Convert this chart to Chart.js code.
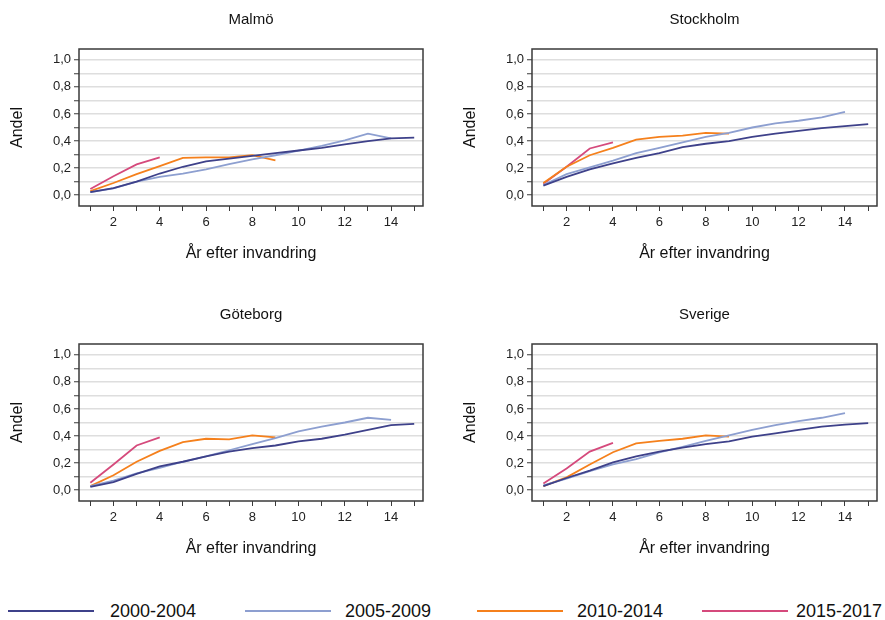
<!DOCTYPE html>
<html>
<head>
<meta charset="utf-8">
<script src="https://cdn.jsdelivr.net/npm/chart.js@4.4.0/dist/chart.umd.min.js"></script>
<style>
body { margin: 0; background: #fff; width: 885px; height: 620px; position: relative; overflow: hidden; font-family: Arial, "Liberation Sans", sans-serif; }
canvas { position: absolute; }
.linje { position: absolute; height: 2px; top: 610px; }
.text { position: absolute; top: 599px; font-size: 18px; line-height: 24px; color: #111; white-space: nowrap; }
</style>
</head>
<body>
<canvas id="malmo" width="442" height="275" style="left:0;top:0"></canvas>
<canvas id="stockholm" width="432" height="275" style="left:453px;top:0"></canvas>
<canvas id="goteborg" width="442" height="275" style="left:0;top:295px"></canvas>
<canvas id="sverige" width="432" height="275" style="left:453px;top:295px"></canvas>
<div id="legend"></div>
<script>
// Data
var ar = [1, 2, 3, 4, 5, 6, 7, 8, 9, 10, 11, 12, 13, 14, 15];
var perioder = ['2000-2004', '2005-2009', '2010-2014', '2015-2017'];
var farger = ['#3e418a', '#8d9fd0', '#f5801c', '#d54a7c'];

var malmo0 = [0.022, 0.052, 0.10, 0.16, 0.21, 0.25, 0.27, 0.29, 0.31, 0.33, 0.35, 0.375, 0.40, 0.42, 0.425];
var malmo1 = [0.022, 0.05, 0.10, 0.135, 0.16, 0.19, 0.23, 0.265, 0.295, 0.33, 0.365, 0.405, 0.455, 0.42];
var malmo2 = [0.03, 0.09, 0.155, 0.215, 0.275, 0.28, 0.28, 0.295, 0.257];
var malmo3 = [0.045, 0.14, 0.227, 0.28];

var sthlm0 = [0.07, 0.135, 0.19, 0.235, 0.275, 0.31, 0.355, 0.38, 0.40, 0.43, 0.455, 0.475, 0.495, 0.51, 0.525];
var sthlm1 = [0.075, 0.155, 0.205, 0.255, 0.31, 0.35, 0.39, 0.43, 0.46, 0.50, 0.53, 0.55, 0.575, 0.615];
var sthlm2 = [0.09, 0.21, 0.295, 0.35, 0.41, 0.43, 0.44, 0.46, 0.455];
var sthlm3 = [0.085, 0.21, 0.345, 0.39];

var gbg0 = [0.025, 0.06, 0.12, 0.175, 0.21, 0.25, 0.285, 0.31, 0.33, 0.36, 0.38, 0.41, 0.445, 0.48, 0.49];
var gbg1 = [0.03, 0.07, 0.125, 0.165, 0.21, 0.25, 0.295, 0.34, 0.385, 0.435, 0.47, 0.50, 0.535, 0.52];
var gbg2 = [0.03, 0.11, 0.21, 0.29, 0.355, 0.38, 0.375, 0.405, 0.39];
var gbg3 = [0.055, 0.19, 0.33, 0.39];

var sve0 = [0.03, 0.09, 0.145, 0.205, 0.25, 0.285, 0.315, 0.34, 0.36, 0.395, 0.42, 0.445, 0.47, 0.485, 0.495];
var sve1 = [0.035, 0.085, 0.14, 0.19, 0.23, 0.28, 0.32, 0.365, 0.405, 0.445, 0.48, 0.51, 0.535, 0.57];
var sve2 = [0.03, 0.095, 0.19, 0.28, 0.345, 0.365, 0.38, 0.405, 0.395];
var sve3 = [0.05, 0.16, 0.285, 0.35];

var typsnitt = 'Arial, "Liberation Sans", sans-serif';

// ram runt ritytan
var ramPlugin = {
    id: 'ram',
    afterDatasetsDraw: function(chart) {
        var a = chart.chartArea, c = chart.ctx;
        c.save();
        c.strokeStyle = '#3a3a3a';
        c.lineWidth = 1.5;
        c.strokeRect(a.left, a.top, a.right - a.left, a.bottom - a.top);
        c.restore();
    }
};

document.addEventListener("DOMContentLoaded", function() {
    drawPanel('malmo', 'Malmö', [malmo0, malmo1, malmo2, malmo3], 19);
    drawPanel('stockholm', 'Stockholm', [sthlm0, sthlm1, sthlm2, sthlm3], 8);
    drawPanel('goteborg', 'Göteborg', [gbg0, gbg1, gbg2, gbg3], 19);
    drawPanel('sverige', 'Sverige', [sve0, sve1, sve2, sve3], 8);
    drawLegend();
});

function drawPanel(id, titel, serier, hogerPad) {
    var ctx = document.getElementById(id).getContext('2d');
    var datasets = serier.map(function(v, i) {
        return {
            label: perioder[i],
            data: v.map(function(y, j) { return { x: ar[j], y: y }; }),
            borderColor: farger[i],
            borderWidth: 1.8,
            pointRadius: 0,
            tension: 0,
            fill: false
        };
    });
    new Chart(ctx, {
        type: 'line',
        data: { datasets: datasets },
        plugins: [ramPlugin],
        options: {
            responsive: false,
            animation: false,
            devicePixelRatio: 1,
            layout: { padding: { left: 0, right: hogerPad, top: 0, bottom: 0 } },
            plugins: {
                legend: { display: false },
                tooltip: { enabled: false },
                title: {
                    display: true,
                    text: titel,
                    fullSize: false,
                    color: '#111',
                    font: { family: typsnitt, size: 15, weight: 'normal' },
                    padding: { top: 11, bottom: 20 }
                }
            },
            scales: {
                x: {
                    type: 'linear',
                    min: 0.51,
                    max: 15.38,
                    afterFit: function(s) { s.height = 69; },
                    border: { display: false },
                    grid: { drawOnChartArea: false, drawTicks: true, tickLength: 5, tickColor: '#3a3a3a' },
                    ticks: {
                        stepSize: 1,
                        includeBounds: false,
                        autoSkip: false,
                        maxRotation: 0,
                        padding: 4,
                        color: '#222',
                        font: { family: typsnitt, size: 13 },
                        callback: function(v) { return v % 2 === 0 ? String(v) : ''; }
                    },
                    title: {
                        display: true,
                        text: 'År efter invandring',
                        color: '#111',
                        font: { family: typsnitt, size: 16 },
                        padding: { top: 0, bottom: 12 }
                    }
                },
                y: {
                    type: 'linear',
                    min: -0.08,
                    max: 1.08,
                    afterFit: function(s) { s.width = 79; },
                    border: { display: false },
                    grid: { color: '#dedede', lineWidth: 1.5, drawTicks: true, tickLength: 5, tickColor: '#3a3a3a', tickWidth: 1 },
                    ticks: {
                        stepSize: 0.1,
                        includeBounds: false,
                        autoSkip: false,
                        padding: 3,
                        color: '#222',
                        font: { family: typsnitt, size: 13 },
                        callback: function(v) {
                            var t = Math.round(v * 10);
                            return t % 2 === 0 ? (t / 10).toFixed(1).replace('.', ',') : '';
                        }
                    },
                    title: {
                        display: true,
                        text: 'Andel',
                        color: '#111',
                        font: { family: typsnitt, size: 16 },
                        padding: { top: 8, bottom: 0 }
                    }
                }
            }
        }
    });
}

function drawLegend() {
    var el = document.getElementById('legend');
    var linjeX = [8, 245, 477, 702];
    var textX = [110, 345, 577, 796];
    perioder.forEach(function(p, i) {
        var l = document.createElement('div');
        l.className = 'linje';
        l.style.left = linjeX[i] + 'px';
        l.style.width = '86px';
        l.style.background = farger[i];
        el.appendChild(l);
        var t = document.createElement('div');
        t.className = 'text';
        t.style.left = textX[i] + 'px';
        t.textContent = p;
        el.appendChild(t);
    });
}
</script>
</body>
</html>
